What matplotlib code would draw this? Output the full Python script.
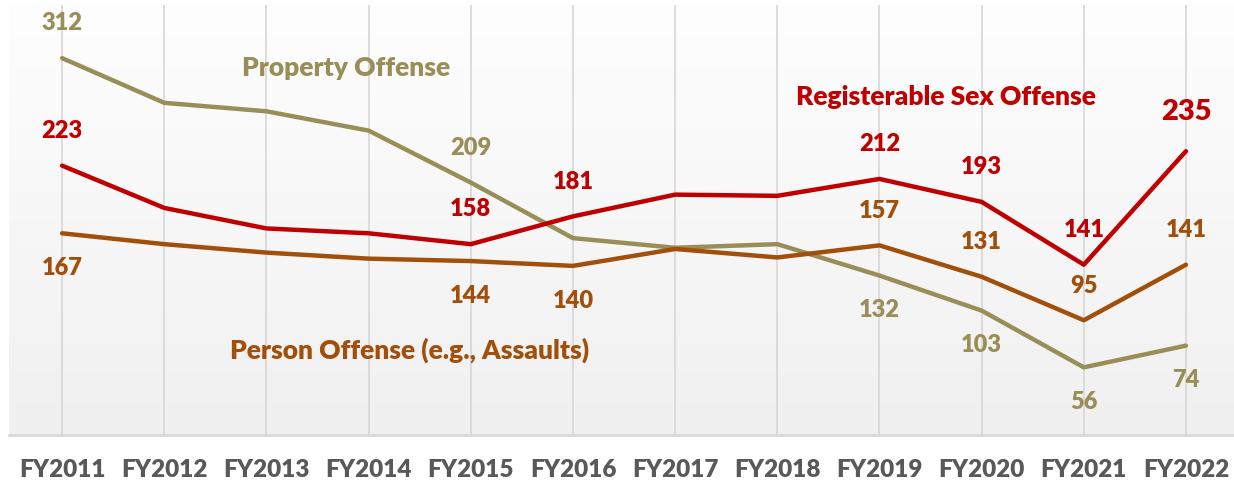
import numpy as np
import matplotlib
matplotlib.use("Agg")
import matplotlib.pyplot as plt

plt.rcParams['font.family'] = ['Lato', 'DejaVu Sans']
plt.rcParams['font.weight'] = 'heavy'

years = ["FY2011", "FY2012", "FY2013", "FY2014", "FY2015", "FY2016",
         "FY2017", "FY2018", "FY2019", "FY2020", "FY2021", "FY2022"]
property_off = [312, 275, 268, 252, 209, 163, 155, 158, 132, 103, 56, 74]
sex_off = [223, 188, 171, 167, 158, 181, 199, 198, 212, 193, 141, 235]
person_off = [167, 158, 151, 146, 144, 140, 154, 147, 157, 131, 95, 141]

# which points get a value label, and on which side (1 above, -1 below)
property_lbl = {0: 1, 4: 1, 8: -1, 9: -1, 10: -1, 11: -1}
sex_lbl = {0: 1, 4: 1, 5: 1, 8: 1, 9: 1, 10: 1, 11: 1}
person_lbl = {0: -1, 4: -1, 5: -1, 8: 1, 9: 1, 10: 1, 11: 1}

c_prop = "#9a8e58"
c_sex = "#c00000"
c_pers = "#a14f0b"
W = 'heavy'

fig = plt.figure(figsize=(12.34, 4.82), dpi=100)
ax = fig.add_axes([9 / 1234, 47 / 482, 1225 / 1234, 430 / 482])

x = np.arange(len(years))
ax.set_xlim(-0.52, 11.47)
ax.set_ylim(0, 356)

# soft gradient background
grad = np.linspace(0, 1, 256).reshape(-1, 1)
cmap = matplotlib.colors.LinearSegmentedColormap.from_list("bg", ["#f0f0f0", "#fefefe"])
ax.imshow(grad, aspect='auto', cmap=cmap, origin='lower',
          extent=[-0.52, 11.47, 0, 356], zorder=0)

for xi in x:
    ax.axvline(xi, color="#d9d9d9", lw=1.3, zorder=1)

for s in ['top', 'right', 'left']:
    ax.spines[s].set_visible(False)
ax.spines['bottom'].set_color("#d9d9d9")
ax.spines['bottom'].set_linewidth(2)
ax.set_yticks([])
ax.set_xticks(x)
ax.set_xticklabels(years, fontsize=17.5, color="#595959", fontweight=W)
ax.tick_params(axis='x', length=0, pad=17)

ax.plot(x, property_off, color=c_prop, lw=3.2, zorder=3, solid_capstyle='round')
ax.plot(x, person_off, color=c_pers, lw=3.2, zorder=4, solid_capstyle='round')
ax.plot(x, sex_off, color=c_sex, lw=3.2, zorder=5, solid_capstyle='round')

def label(vals, which, color):
    for i, side in which.items():
        size = 17
        off = 25
        if color == c_sex and i == len(vals) - 1:
            size = 21
            off = 28
        ax.annotate(str(vals[i]), (x[i], vals[i]), xytext=(0, side * off),
                    textcoords='offset points', ha='center', va='center',
                    color=color, fontsize=size, fontweight=W, zorder=6)

label(property_off, property_lbl, c_prop)
label(sex_off, sex_lbl, c_sex)
label(person_off, person_lbl, c_pers)

fig.text(346 / 1234, 1 - 68 / 482, "Property Offense", color=c_prop,
         fontsize=19, fontweight=W, ha='center', va='center')
fig.text(946 / 1234, 1 - 97 / 482, "Registerable Sex Offense", color=c_sex,
         fontsize=19, fontweight=W, ha='center', va='center')
fig.text(410 / 1234, 1 - 350 / 482, "Person Offense (e.g., Assaults)", color=c_pers,
         fontsize=19, fontweight=W, ha='center', va='center')

fig.savefig("out.png", dpi=100)
